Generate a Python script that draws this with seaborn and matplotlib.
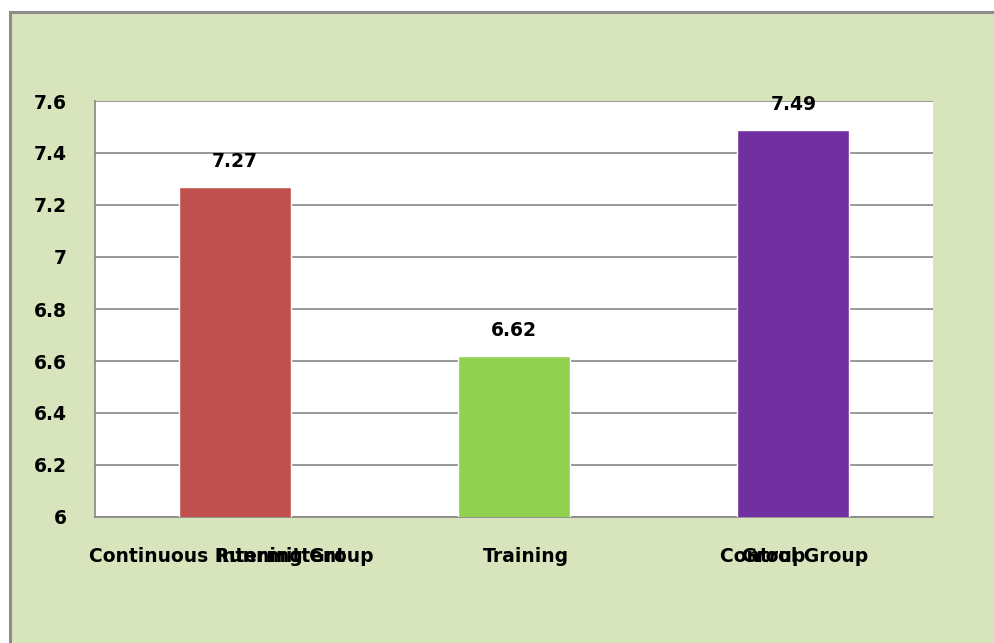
import matplotlib
matplotlib.use("Agg")
import matplotlib.pyplot as plt
import seaborn as sns
import pandas as pd
from matplotlib.patches import Rectangle

categories = ["Continuous Running Group", "Intermittent Training Group", "Control Group"]
values = [7.27, 6.62, 7.49]
tick_labels = ["Continuous Running Group", "Training", "Control Group"]
value_labels = ["7.27", "6.62", "7.49"]
colors = ["#C0504D", "#92D050", "#7030A0"]
yticks = [6, 6.2, 6.4, 6.6, 6.8, 7, 7.2, 7.4, 7.6]
ytick_labels = ["6", "6.2", "6.4", "6.6", "6.8", "7", "7.2", "7.4", "7.6"]

sns.set_style("white")
plt.rcParams['font.family'] = ['DejaVu Sans']
FS = 13.5

W, H = 995, 643
fig = plt.figure(figsize=(W / 100, H / 100), dpi=100)
fig.patch.set_facecolor("white")
# outer chart area
fig.patches.append(Rectangle((10 / W, -0.05), 1.0, (643 - 12) / H + 0.05, transform=fig.transFigure,
                             facecolor="#D8E4BC", edgecolor="#8C8C8C", linewidth=2.2, zorder=-10))

ax = fig.add_axes([95 / W, (643 - 517) / H, (933 - 95) / W, (517 - 101) / H])
ax.set_zorder(5)
df = pd.DataFrame({"cat": categories, "val": values})
sns.barplot(data=df, x="cat", y="val", hue="cat", palette=colors, width=0.4,
            legend=False, ax=ax, saturation=1, zorder=3)
ax.set_facecolor("white")
ax.set_ylim(6, 7.6)
ax.set_xlim(-0.5, 2.5)
ax.set_yticks(yticks)
ax.set_yticklabels(ytick_labels, fontsize=FS, fontweight="bold", color="black")
ax.yaxis.grid(True, color="#868686", linewidth=1.2, zorder=0)
ax.set_axisbelow(True)
for s in ["top", "right"]:
    ax.spines[s].set_visible(False)
ax.spines["left"].set_color("#868686")
ax.spines["bottom"].set_color("#868686")
ax.spines["left"].set_linewidth(1.2)
ax.spines["bottom"].set_linewidth(1.2)
ax.tick_params(axis="y", length=7, color="#868686", pad=13, width=1.2)
ax.set_xticks([-0.5, 0.5, 1.5, 2.5])
ax.set_xticklabels([])
ax.tick_params(axis="x", length=6, color="#868686", width=1.2)
ax.set_xlabel("")
ax.set_ylabel("")

for i, (v, lab) in enumerate(zip(values, value_labels)):
    ax.text(i, v + 0.077, lab, ha="center", va="baseline", fontsize=FS, fontweight="bold", color="black")

trans = ax.get_xaxis_transform()
ypos = -0.095
kw = dict(transform=trans, ha="center", va="center", fontsize=FS, fontweight="bold", color="black")
ax.text(-0.013, ypos, tick_labels[0], **kw)
ax.text(0.165, ypos, "Intermittent", **kw)
ax.text(1.043, ypos, tick_labels[1], **kw)
ax.text(2.003, ypos, tick_labels[2], **kw)
ax.text(1.927, ypos, "Group", **kw)

fig.savefig("out.png", dpi=100)
